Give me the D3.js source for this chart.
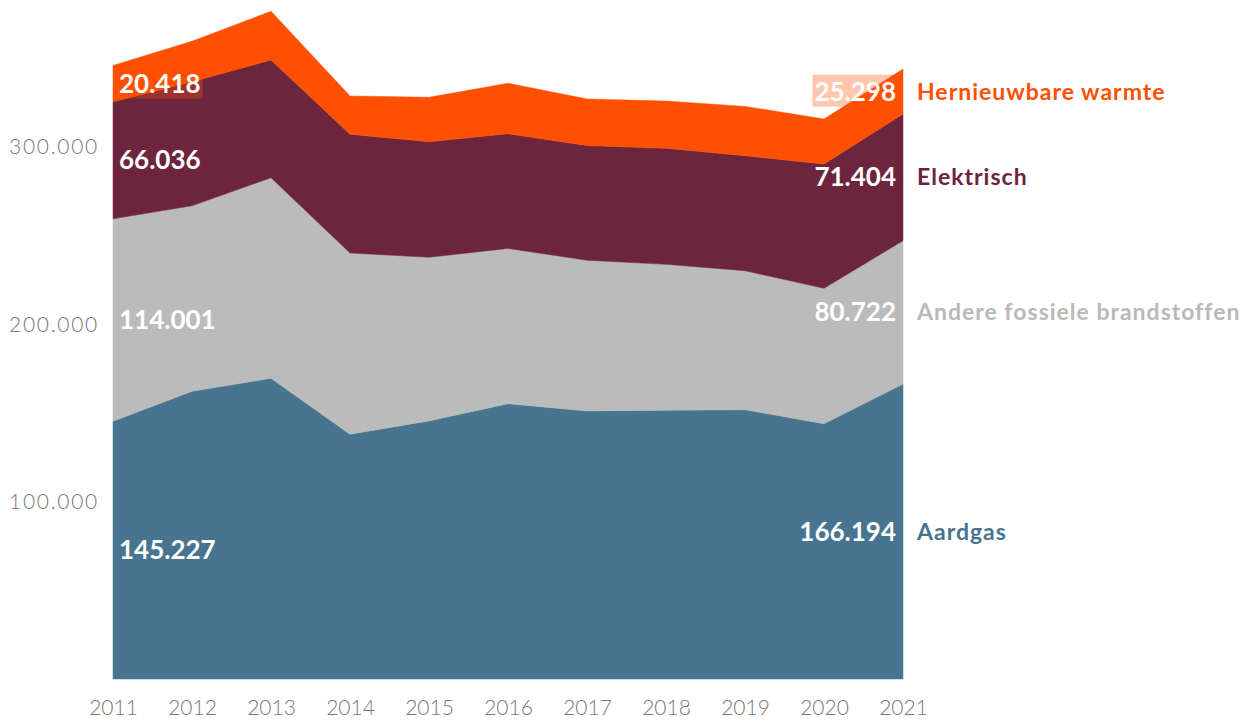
<!DOCTYPE html>
<html>
<head>
<meta charset="utf-8">
<script src="https://cdn.jsdelivr.net/npm/d3@7"></script>
<style>
  html, body { margin: 0; padding: 0; background: #fff; }
  svg { display: block; }
  text { font-family: Lato, "Open Sans", sans-serif; }
</style>
</head>
<body>
<svg id="chart" width="1246" height="722"></svg>
<script>
const years = [2011, 2012, 2013, 2014, 2015, 2016, 2017, 2018, 2019, 2020, 2021];
const aardgas      = [145227, 162100, 169400, 137900, 145400, 155100, 151000, 151400, 151700, 143800, 166194];
const andere       = [114001, 104500, 113000, 102100,  92200,  87500,  84900,  82200,  78300,  76300,  80722];
const elektrisch   = [ 66036,  69900,  66300,  66900,  65100,  64600,  64600,  65400,  64800,  70000,  71404];
const hernieuwbaar = [ 20418,  22800,  27500,  21600,  25000,  28400,  26300,  26600,  27800,  25400,  25298];

const seriesNames = ["Aardgas", "Andere fossiele brandstoffen", "Elektrisch", "Hernieuwbare warmte"];
const seriesKeys = ["aardgas", "andere", "elektrisch", "hernieuwbaar"];
const seriesColors = ["#47758f", "#babbba", "#6d243d", "#fe5000"];
const labelColors = ["#47758f", "#b8b9b8", "#6d243d", "#fe5000"];
const yTicks = [100000, 200000, 300000];

const rows = years.map((y, i) => ({
  year: y, aardgas: aardgas[i], andere: andere[i], elektrisch: elektrisch[i], hernieuwbaar: hernieuwbaar[i]
}));

const svg = d3.select("#chart");
const x = d3.scaleLinear().domain([2011, 2021]).range([113, 903]);
const y = d3.scaleLinear().domain([0, 380000]).range([679, 679 - 380 * 1.775]);

const stack = d3.stack().keys(seriesKeys);
const layers = stack(rows);

const area = d3.area()
  .x(d => x(d.data.year))
  .y0(d => y(d[0]))
  .y1(d => y(d[1]))
  .curve(d3.curveLinear);

svg.append("g").selectAll("path")
  .data(layers)
  .join("path")
  .attr("d", area)
  .attr("fill", (d, i) => seriesColors[i])
  .attr("stroke", (d, i) => seriesColors[i])
  .attr("stroke-width", 0.5);

const fmt = v => d3.format(",")(v).replace(/,/g, ".");

// Y axis labels
const yAxis = d3.axisLeft(y).tickValues(yTicks).tickSize(0).tickPadding(0).tickFormat(fmt);
const gy = svg.append("g").attr("transform", "translate(99,0)").call(yAxis);
gy.select(".domain").remove();
gy.selectAll("text")
  .attr("font-family", "Lato, sans-serif")
  .attr("font-weight", 300)
  .attr("font-size", 21)
  .attr("letter-spacing", "1.7px")
  .attr("fill", "#777")
  .attr("dy", "0.35em");

// X axis labels
const xAxis = d3.axisBottom(x).tickValues(years).tickSize(0).tickPadding(0).tickFormat(d3.format("d"));
const gx = svg.append("g").attr("transform", "translate(0,708)").call(xAxis);
gx.select(".domain").remove();
gx.selectAll("text")
  .attr("font-family", "Lato, sans-serif")
  .attr("font-weight", 300)
  .attr("font-size", 21)
  .attr("fill", "#777")
  .attr("dy", "0.35em");

// Value labels
const first = 0, last = years.length - 1;
const bgLayer = svg.append("g");
const labelLayer = svg.append("g");

layers.forEach((layer, i) => {
  const a = layer[first], b = layer[last];
  const yl = y((a[0] + a[1]) / 2);
  const yr = y((b[0] + b[1]) / 2);
  const tl = labelLayer.append("text")
    .attr("x", 119).attr("y", yl).attr("dy", "0.35em")
    .attr("font-size", 26).attr("font-weight", 700).attr("fill", "#fff")
    .text(fmt(a.data[seriesKeys[i]]));
  const tr = labelLayer.append("text")
    .attr("x", 896).attr("y", yr).attr("dy", "0.35em")
    .attr("text-anchor", "end")
    .attr("font-size", 26).attr("font-weight", 700).attr("fill", "#fff")
    .text(fmt(b.data[seriesKeys[i]]));
  labelLayer.append("text")
    .attr("x", 917).attr("y", yr).attr("dy", "0.35em")
    .attr("font-size", 23).attr("font-weight", 700).attr("letter-spacing", "1px")
    .attr("fill", labelColors[i])
    .text(seriesNames[i]);
  if (i === 3) {
    [tl, tr].forEach((t, k) => {
      const bb = t.node().getBBox();
      const x0 = k === 0 ? x(2011) : bb.x - 2;
      bgLayer.append("rect")
        .attr("x", x0).attr("y", bb.y)
        .attr("width", bb.x + bb.width + 2 - x0)
        .attr("height", bb.height)
        .attr("fill", "#fe5000").attr("fill-opacity", 0.32);
    });
  }
});
</script>
</body>
</html>
